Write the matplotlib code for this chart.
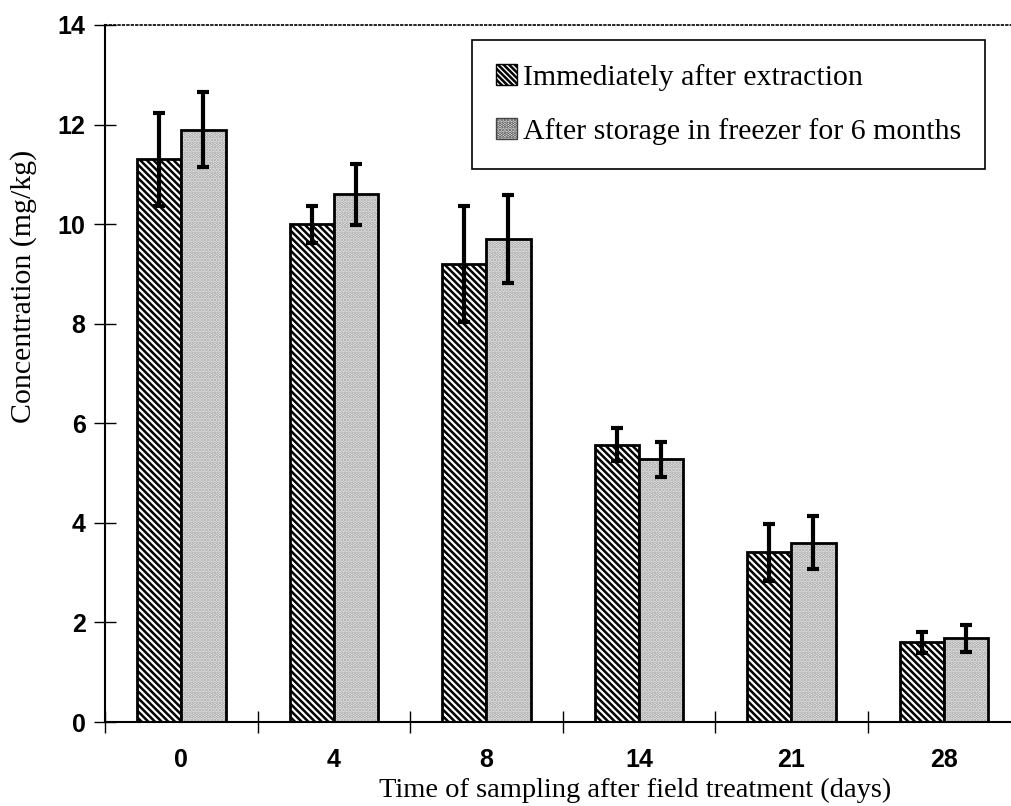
import numpy as np
import matplotlib.pyplot as plt
from matplotlib.patches import Patch

days = ['0', '4', '8', '14', '21', '28']
immediate = [11.3, 10.0, 9.2, 5.57, 3.41, 1.6]
immediate_err = [0.93, 0.37, 1.17, 0.33, 0.57, 0.21]
stored = [11.9, 10.6, 9.7, 5.28, 3.6, 1.68]
stored_err = [0.75, 0.61, 0.89, 0.35, 0.53, 0.27]

plt.rcParams['hatch.linewidth'] = 1.8

fig = plt.figure(figsize=(10.11, 8.06), dpi=100)
ax = fig.add_axes([0.1039, 0.1042, 0.8961, 0.8648])

x = np.arange(len(days))
w = 0.29

# dark hatched bars
ax.bar(x - w / 2, immediate, w, color='white', edgecolor='black',
       hatch='\\\\\\\\\\', linewidth=2, zorder=2)
# light dotted bars: texture first, black outline on top
ax.bar(x + w / 2, stored, w, color='#f0f0f0', edgecolor='#a0a0a0',
       hatch='.....', linewidth=0, zorder=2)
ax.bar(x + w / 2, stored, w, fill=False, edgecolor='black', linewidth=2, zorder=3)

ax.errorbar(x - w / 2, immediate, yerr=immediate_err, fmt='none', ecolor='black',
            elinewidth=3, capsize=4.5, capthick=3, zorder=4)
ax.errorbar(x + w / 2, stored, yerr=stored_err, fmt='none', ecolor='black',
            elinewidth=3, capsize=4.5, capthick=3, zorder=4)

ax.set_xlim(-0.5, 5.44)
ax.set_ylim(0, 14)
ax.set_yticks(np.arange(0, 15, 2))
ax.set_xticks(x)
ax.set_xticklabels(days)
ax.set_xticks(np.arange(-0.5, 5.5, 1), minor=True)
ax.tick_params(axis='x', which='major', length=0, pad=19, labelsize=18)
ax.tick_params(axis='x', which='minor', length=16, direction='inout', width=1)
ax.tick_params(axis='y', length=16, direction='inout', width=1, pad=6, labelsize=18)
for lab in ax.get_xticklabels() + ax.get_yticklabels():
    lab.set_fontfamily('Liberation Sans')
    lab.set_fontweight('bold')

ax.spines['left'].set_linewidth(1.5)
ax.spines['bottom'].set_linewidth(1.5)
ax.spines['top'].set_linestyle(':')
ax.spines['top'].set_linewidth(1.2)
ax.spines['right'].set_visible(False)

ax.set_ylabel('Concentration (mg/kg)', family='Liberation Serif', fontsize=21.5, labelpad=15)
ax.set_xlabel('Time of sampling after field treatment (days)', family='Liberation Serif',
              fontsize=20.5, labelpad=4)
ax.xaxis.label.set_x(0.585)
ax.yaxis.label.set_y(0.625)

handles = [Patch(facecolor='white', edgecolor='black', hatch='\\\\\\\\\\\\'),
           Patch(facecolor='#f0f0f0', edgecolor='#444444', hatch='.....')]
leg = ax.legend(handles, ['Immediately after extraction', 'After storage in freezer for 6 months'],
                loc='upper left', bbox_to_anchor=(0.405, 0.978),
                prop={'family': 'Liberation Serif', 'size': 21.5},
                fancybox=False, edgecolor='black', framealpha=1,
                handlelength=0.7, handleheight=0.7, handletextpad=0.2,
                labelspacing=0.9, borderpad=0.8, borderaxespad=0)
leg.get_frame().set_linewidth(1.2)

fig.savefig('out.png', dpi=100)
